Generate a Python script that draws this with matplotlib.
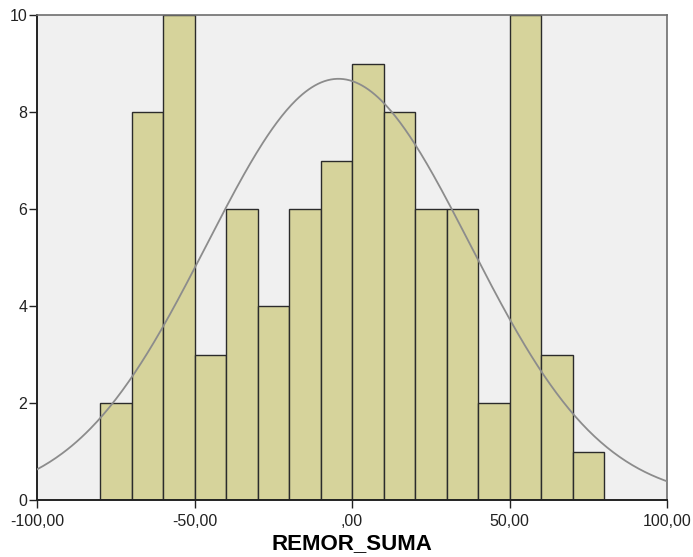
import numpy as np
import matplotlib
matplotlib.use('Agg')
import matplotlib.pyplot as plt

# Histogram of REMOR_SUMA (bin edges and counts)
bin_edges = [-80, -70, -60, -50, -40, -30, -20, -10, 0, 10, 20, 30, 40, 50, 60, 70, 80]
counts = [2, 8, 10, 3, 6, 4, 6, 7, 9, 8, 6, 6, 2, 10, 3, 1]

# Normal curve parameters (estimated)
mean_val = -4.3
std_val = 41.8

x_ticks = [-100, -50, 0, 50, 100]
x_tick_labels = ['-100,00', '-50,00', ',00', '50,00', '100,00']
y_ticks = [0, 2, 4, 6, 8, 10]

plt.rcParams['font.family'] = ['Liberation Sans', 'DejaVu Sans']

fig = plt.figure(figsize=(6.93, 5.57), dpi=100)
ax = fig.add_axes([0.0534, 0.1023, 0.9091, 0.8707])
ax.set_facecolor('#F0F0F0')

edges = np.array(bin_edges)
widths = np.diff(edges)
ax.bar(edges[:-1], counts, width=widths, align='edge', color='#D6D39B',
       edgecolor='#2B2B2B', linewidth=1.0, zorder=2)

# Fitted normal curve scaled to counts
n_total = sum(counts)
bw = widths[0]
xs = np.linspace(-100, 100, 400)
ys = n_total * bw / (std_val * np.sqrt(2 * np.pi)) * np.exp(-0.5 * ((xs - mean_val) / std_val) ** 2)
ax.plot(xs, ys, color='#8C8C8C', linewidth=1.3, zorder=3, clip_on=True)

ax.set_xlim(-100, 100)
ax.set_ylim(0, 10)
ax.set_xticks(x_ticks)
ax.set_xticklabels(x_tick_labels)
ax.set_yticks(y_ticks)
ax.tick_params(axis='both', labelsize=11.5, colors='#222222', length=6, width=1.0,
               direction='out')
ax.tick_params(axis='x', pad=4)
ax.tick_params(axis='y', pad=1)

for side in ['left', 'bottom']:
    ax.spines[side].set_color('#222222')
    ax.spines[side].set_linewidth(1.4)
for side in ['top', 'right']:
    ax.spines[side].set_color('#6E6E6E')
    ax.spines[side].set_linewidth(1.2)

ax.set_xlabel('REMOR_SUMA', fontsize=16, fontweight='bold', labelpad=3)

plt.savefig('out.png', dpi=100)
